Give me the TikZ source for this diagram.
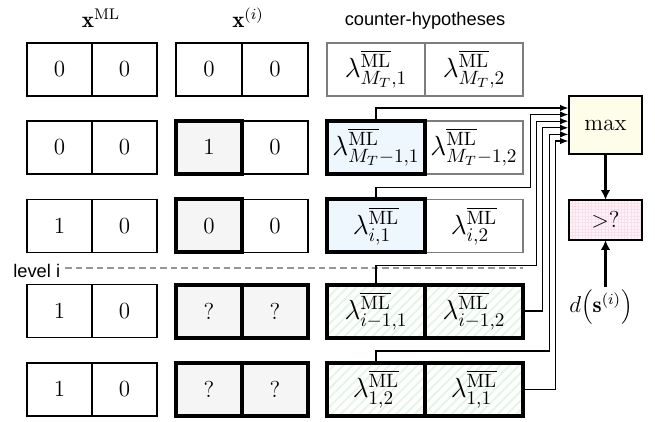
\documentclass[tikz,border=0pt]{standalone}
\usepackage{fontspec}
\newfontfamily\sansf{Liberation Sans}
\usetikzlibrary{arrows.meta,patterns.meta,calc}
\definecolor{cellgray}{RGB}{245,245,245}
\definecolor{cellblue}{RGB}{238,246,254}
\definecolor{ivory}{RGB}{253,253,234}
\definecolor{pinkbase}{RGB}{254,244,248}
\definecolor{pinkgrid}{RGB}{250,222,233}
\definecolor{stripegreen}{RGB}{226,246,226}
\definecolor{framegray}{RGB}{125,125,125}
\definecolor{dashgray}{RGB}{150,150,150}
\newcommand{\lam}[1]{\lambda^{\overline{\mathrm{ML}}}_{#1}}
\begin{document}
\begin{tikzpicture}[x=0.52pt,y=-0.52pt,
  font=\large,
  cell/.style={draw=black,line width=0.6pt,fill=white,minimum height=27.56pt,
    inner sep=0pt,outer sep=0pt},
  xcol/.style={cell,minimum width=33.8pt},
  icol/.style={cell,minimum width=34.32pt},
  lcol/.style={cell,minimum width=50.96pt,draw=framegray,font=\Large},
  chosen/.style={line width=2.08pt,draw=black},
  greycell/.style={fill=cellgray},
  bluecell/.style={fill=cellblue},
  stripecell/.style={preaction={fill=white},
    pattern={Lines[angle=45,distance=3.4pt,line width=1pt]},
    pattern color=stripegreen},
  sans/.style={font={\sansf\fontsize{9.5pt}{11pt}\selectfont}},
  conn/.style={line width=0.7pt,-{Latex[length=4.3pt,width=3.4pt]}},
  bigarr/.style={line width=1.05pt,-{Latex[length=5pt,width=5pt]}},
  levelline/.style={draw=dashgray,line width=1pt,dash pattern=on 3.4pt off 2.1pt}
]
\useasboundingbox (0,0) rectangle (655,422);

% column headers
\node[anchor=base] (hml) at (101,28) {$\mathbf{x}^{\mathrm{ML}}$};
\node[anchor=base] (hxi) at (248,28) {$\mathbf{x}^{(i)}$};
\node[sans,anchor=base] (hyp) at (425,26) {counter-hypotheses};

% x^ML column
\node[xcol] (a1) at (59.5,69.5) {$0$};  \node[xcol] (b1) at (124.5,69.5) {$0$};
\node[xcol] (a2) at (59.5,147.5) {$0$}; \node[xcol] (b2) at (124.5,147.5) {$0$};
\node[xcol] (a3) at (59.5,226) {$1$};   \node[xcol] (b3) at (124.5,226) {$0$};
\node[xcol] (a4) at (59.5,311) {$1$};   \node[xcol] (b4) at (124.5,311) {$0$};
\node[xcol] (a5) at (59.5,389.5) {$1$}; \node[xcol] (b5) at (124.5,389.5) {$0$};

% x^(i) column
\node[icol] (c1) at (209,69.5) {$0$};  \node[icol] (d1) at (275,69.5) {$0$};
\node[icol] (d2) at (275,147.5) {$0$};
\node[icol,chosen,greycell] (c2) at (209,147.5) {$1$};
\node[icol] (d3) at (275,226) {$0$};
\node[icol,chosen,greycell] (c3) at (209,226) {$0$};
\node[icol,chosen,greycell] (c4) at (209,311) {$?$};
\node[icol,chosen,greycell] (d4) at (275,311) {$?$};
\node[icol,chosen,greycell] (c5) at (209,389.5) {$?$};
\node[icol,chosen,greycell] (d5) at (275,389.5) {$?$};

% counter-hypotheses column
\node[lcol] (e1) at (376,69.5) {$\lam{M_T,1}$};
\node[lcol] (f1) at (474,69.5) {$\lam{M_T,2}$};
\node[lcol] (f2) at (474,147.5) {$\lam{M_T-1,2}$};
\node[lcol,chosen,bluecell] (e2) at (376,147.5) {$\lam{M_T-1,1}$};
\node[lcol] (f3) at (474,226) {$\lam{i,2}$};
\node[lcol,chosen,bluecell] (e3) at (376,226) {$\lam{i,1}$};
\node[lcol,chosen,stripecell] (e4) at (376,311) {$\lam{i-1,1}$};
\node[lcol,chosen,stripecell] (f4) at (474,311) {$\lam{i-1,2}$};
\node[lcol,chosen,stripecell] (e5) at (376,389.5) {$\lam{1,2}$};
\node[lcol,chosen,stripecell] (f5) at (474,389.5) {$\lam{1,1}$};

% level marker
\node[sans,anchor=base west,inner sep=0pt] (lvl) at (13,277) {level i};
\coordinate (lvlstart) at (65,268);
\coordinate (lvlend) at (523,268);
\draw[levelline] (lvlstart) -- (lvlend);

% decision blocks
\node[draw,line width=0.65pt,fill=ivory,minimum width=37.96pt,minimum height=30.16pt,
  inner sep=0pt] (max) at (605.5,125) {$\max$};
\node[draw,line width=1.5pt,preaction={fill=pinkbase},
  pattern={Hatch[angle=0,distance=1.7pt,line width=0.3pt]},pattern color=pinkgrid,
  minimum width=37.96pt,minimum height=20.8pt,inner sep=0pt] (cmp) at (605.5,220) {$>?$};
\node[anchor=north,inner sep=1pt] (dlab) at (601,287) {$d{\left(\mathbf{s}^{(i)}\right)}$};

\draw[bigarr] (max.south) -- (cmp.north);
\draw[bigarr] (cmp.south |- dlab.north) -- (cmp.south);

% counter-hypothesis bus into the max block
\draw[conn] (e2.north) |- ($(max.west)+(0,-17)$);
\draw[conn] (e3.north) -- ++(0,-12) -| ($(max.west)+(-38,-10.4)$) -- ($(max.west)+(0,-10.4)$);
\draw[conn] (e4.north) -- ++(0,-19) -| ($(max.west)+(-32,-3.8)$) -- ($(max.west)+(0,-3.8)$);
\draw[conn] (f4.east) -| ($(max.west)+(-26,2.8)$) -- ($(max.west)+(0,2.8)$);
\draw[conn] (e5.north) -- ++(0,-12) -| ($(max.west)+(-19,9.4)$) -- ($(max.west)+(0,9.4)$);
\draw[conn] (f5.east) -| ($(max.west)+(-13,16)$) -- ($(max.west)+(0,16)$);
\end{tikzpicture}
\end{document}
